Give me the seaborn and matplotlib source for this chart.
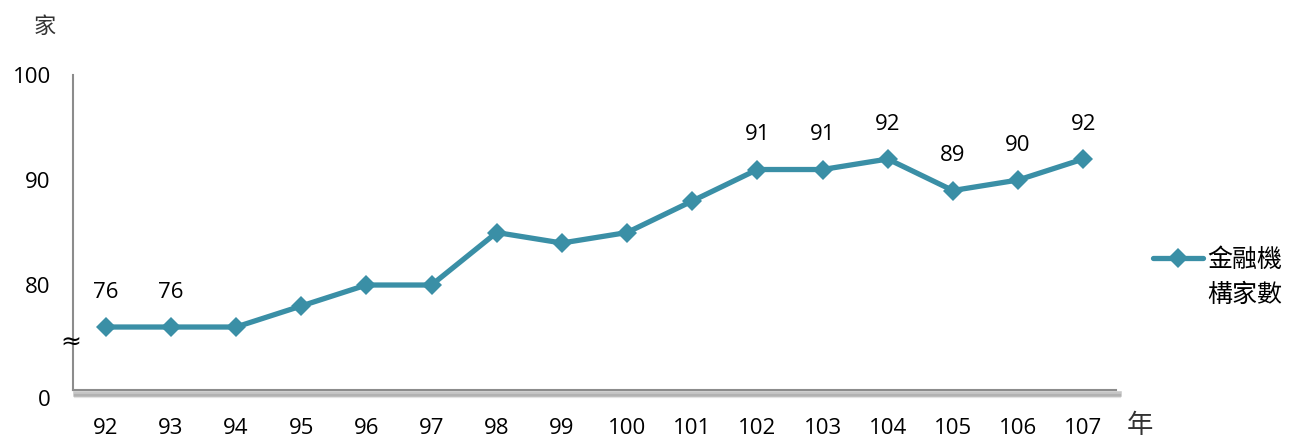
import pandas as pd
import seaborn as sns
import matplotlib.pyplot as plt
import matplotlib.patheffects as pe
from matplotlib.ticker import FixedLocator

# Values
years = ['92', '93', '94', '95', '96', '97', '98', '99', '100',
         '101', '102', '103', '104', '105', '106', '107']
counts = [76, 76, 76, 78, 80, 80, 85, 84, 85, 88, 91, 91, 92, 89, 90, 92]
# only some of the points carry a value label
labelled_years = ['92', '93', '102', '103', '104', '105', '106', '107']
y_ticks = [70, 80, 90, 100]
y_tick_labels = ['0', '80', '90', '100']

df = pd.DataFrame({'year': years, 'count': counts})

sns.set_style('white')
plt.rcParams['font.family'] = ['Open Sans', 'Noto Sans CJK TC', 'DejaVu Sans']
plt.rcParams['text.color'] = 'black'
plt.rcParams['xtick.labelcolor'] = 'black'
plt.rcParams['ytick.labelcolor'] = 'black'

line_color = '#3a8fa6'
axis_color = '#8c8c8c'
cjk = ['Noto Sans CJK TC']

fig = plt.figure(figsize=(12.93, 4.4), dpi=100)
ax = fig.add_axes([0.0565, 0.1136, 0.8065, 0.7159])

sns.lineplot(data=df, x='year', y='count', ax=ax, color=line_color,
             linewidth=3.8, marker='D', markersize=10,
             markeredgewidth=0, label='金融機')

# value labels above selected points
for i, (yr, c) in enumerate(zip(years, counts)):
    if yr in labelled_years:
        ax.annotate(str(c), (i, c), xytext=(0, 25), textcoords='offset points',
                    ha='center', va='center', fontsize=16, color='black')

ax.set_xlim(-0.5, len(years) - 0.5)
ax.set_ylim(70, 100)
ax.set_yticks(y_ticks)
ax.set_yticklabels(y_tick_labels)
ax.set_xlabel('')
ax.set_ylabel('')

# category labels centred, tick marks between categories
ax.xaxis.set_minor_locator(FixedLocator([i + 0.5 for i in range(len(years))]))
ax.tick_params(axis='x', which='major', length=0, pad=20, labelsize=16)
ax.tick_params(axis='x', which='minor', direction='in', length=5,
               width=1.2, color=axis_color)
ax.tick_params(axis='y', direction='in', length=6, width=1.2,
               color=axis_color, pad=16, labelsize=16)
# the "0" of the broken axis sits a little under the axis line
ax.get_yticklabels()[0].set_verticalalignment('top')
ax.get_yticklabels()[0].set_y(69.2)

for side in ['top', 'right']:
    ax.spines[side].set_visible(False)
for side in ['left', 'bottom']:
    ax.spines[side].set_color(axis_color)
    ax.spines[side].set_linewidth(1.5)

# soft shadow under the x axis
ax.spines['bottom'].set_path_effects([
    pe.SimpleLineShadow(offset=(2, -3), shadow_color='#444444', alpha=0.3, linewidth=4),
    pe.SimpleLineShadow(offset=(2, -4.5), shadow_color='#444444', alpha=0.15, linewidth=3),
    pe.Normal()])

# axis break mark
ax.text(-0.53, 74.5, '≈', ha='center', va='center', fontsize=18,
        color='black', family=['DejaVu Sans'])

# unit labels
fig.text(0.035, 0.94, '家', ha='center', va='center', fontsize=16,
         family=cjk, color='#333333', fontweight='light')
fig.text(0.882, 0.033, '年', ha='center', va='center', fontsize=19,
         family=cjk, color='#333333', fontweight='light')

leg = ax.legend(loc='upper left', bbox_to_anchor=(1.036, 0.455), frameon=False,
                handlelength=2.0, handletextpad=0.15, borderaxespad=0,
                borderpad=0, prop={'family': cjk, 'size': 18, 'weight': 'light'})

# second line of the legend label, under the first
fig.canvas.draw()
bb = leg.get_texts()[0].get_window_extent().transformed(fig.transFigure.inverted())
fig.text(bb.x0, bb.y0 - 0.022, '構家數', ha='left', va='top', fontsize=18,
         family=cjk, color='black', fontweight='light')

fig.savefig('out.png', dpi=100)
